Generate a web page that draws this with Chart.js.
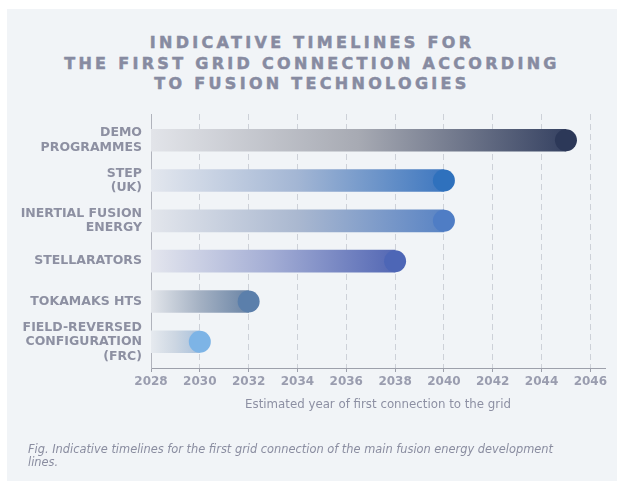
<html>
<head>
<script src="https://cdn.jsdelivr.net/npm/chart.js@4.4.0/dist/chart.umd.min.js"></script>
<style>
  body { margin: 0; background: #ffffff; width: 617px; height: 481px; overflow: hidden; }
  #panel { position: absolute; left: 7px; top: 9px; width: 610px; height: 472px; background: #f1f4f7; }
  #title {
    position: absolute; left: 7px; width: 610px; top: 33px;
    text-align: center; font-family: "DejaVu Sans"; font-weight: bold;
    font-size: 16px; line-height: 20.5px; letter-spacing: 3.3px; color: #878ba1;
    -webkit-text-stroke: 0.5px #878ba1;
  }
  #caption {
    position: absolute; left: 28px; top: 443px;
    font-family: "DejaVu Sans"; font-style: italic; font-size: 11.4px;
    line-height: 13px; color: #8a8da0;
  }
  #wrap { position: absolute; left: 0; top: 0; width: 617px; height: 481px; }
</style>
</head>
<body>
  <div id="panel"></div>
  <div id="title">INDICATIVE TIMELINES FOR<br>THE FIRST GRID CONNECTION ACCORDING<br>TO FUSION TECHNOLOGIES</div>
  <div id="wrap"><canvas id="timelineChart" width="617" height="481"></canvas></div>
  <div id="caption">Fig. Indicative timelines for the first grid connection of the main fusion energy development<br>lines.</div>

<script>
  // data
  var categories = [
    ["DEMO", "PROGRAMMES"],
    ["STEP", "(UK)"],
    ["INERTIAL FUSION", "ENERGY"],
    ["STELLARATORS"],
    ["TOKAMAKS HTS"],
    ["FIELD-REVERSED", "CONFIGURATION", "(FRC)"]
  ];
  var startYears = [2028, 2028, 2028, 2028, 2028, 2028];
  var connectionYears = [2045, 2040, 2040, 2038, 2032, 2030];
  var yearTicks = [2028, 2030, 2032, 2034, 2036, 2038, 2040, 2042, 2044, 2046];
  var axisTitle = "Estimated year of first connection to the grid";

  // colours (left of bar, middle, end of bar) and the end dot
  var barColors = [
    ["#e2e4e9", "#a7aab3", "#364262"],
    ["#e3e7ee", "#a3b6d4", "#3f78c0"],
    ["#e3e6ec", "#aab8d0", "#5a84c4"],
    ["#e4e6ee", "#a2acd4", "#5468b4"],
    ["#e3e6eb", "#a4b1c3", "#6b85a6"],
    ["#e6eaef", "#ccd6e2", "#a9c1dc"]
  ];
  var dotColors = ["#2c3858", "#2f71bd", "#4f7dc5", "#4d66b6", "#5b7fab", "#7db4e6"];

  var barData = connectionYears.map(function (end, i) {
    return { x: [startYears[i], end], y: i };
  });
  var dotData = connectionYears.map(function (end, i) {
    return { x: end, y: i };
  });

  function barGradient(c) {
    var cols = barColors[c.dataIndex] || barColors[0];
    if (c.type !== "data") return cols[2];
    var chart = c.chart;
    if (!chart.chartArea || !chart.scales.x) return cols[2];
    var x0 = chart.scales.x.getPixelForValue(startYears[c.dataIndex]);
    var x1 = chart.scales.x.getPixelForValue(connectionYears[c.dataIndex]);
    var g = chart.ctx.createLinearGradient(x0, 0, x1, 0);
    g.addColorStop(0, cols[0]);
    g.addColorStop(0.5, cols[1]);
    g.addColorStop(1, cols[2]);
    return g;
  }

  var ctx = document.getElementById("timelineChart");

  var timelineChart = new Chart(ctx, {
    type: "bar",
    data: {
      datasets: [
        {
          type: "scatter",
          data: dotData,
          backgroundColor: dotColors,
          borderWidth: 0,
          pointRadius: 11,
          pointHoverRadius: 11,
          order: 0
        },
        {
          type: "bar",
          data: barData,
          backgroundColor: barGradient,
          barThickness: 22,
          borderWidth: 0,
          order: 1
        }
      ]
    },
    options: {
      indexAxis: "y",
      responsive: false,
      animation: false,
      layout: { padding: { left: 0, right: 12, top: 114, bottom: 63 } },
      plugins: {
        legend: { display: false },
        tooltip: { enabled: false }
      },
      scales: {
        x: {
          type: "linear",
          position: "bottom",
          min: 2028,
          max: 2046.6,
          offset: false,
          afterBuildTicks: function (scale) {
            scale.ticks = yearTicks.map(function (v) { return { value: v }; });
          },
          afterFit: function (scale) { scale.height = 50; },
          border: { display: true, color: "#9da0ab", width: 1, dash: [6, 4] },
          grid: {
            color: "#cdd1d8",
            tickLength: 4,
            tickColor: "#9da0ab",
            tickBorderDash: []
          },
          ticks: {
            padding: 3,
            color: "#9a9daf",
            font: { family: "DejaVu Sans", weight: "bold", size: 12 },
            maxRotation: 0,
            autoSkip: false,
            callback: function (v) { return String(v); }
          },
          title: {
            display: true,
            text: axisTitle,
            color: "#8d90a3",
            font: { family: "DejaVu Sans", size: 11.8 },
            padding: { top: 8, bottom: 6 }
          }
        },
        y: {
          type: "linear",
          position: "left",
          reverse: true,
          offset: false,
          min: -0.65,
          max: 5.65,
          afterBuildTicks: function (scale) {
            scale.ticks = categories.map(function (c, i) { return { value: i }; });
          },
          afterFit: function (scale) { scale.width = 151; },
          border: { display: true, color: "#b0b3bc", width: 1 },
          grid: { display: false, drawTicks: false, offset: false },
          ticks: {
            padding: 9,
            autoSkip: false,
            color: "#8d90a2",
            font: { family: "DejaVu Sans", weight: "bold", size: 12.5, lineHeight: 1.16 },
            callback: function (v) { return categories[v]; }
          }
        }
      }
    }
  });
</script>
</body>
</html>
